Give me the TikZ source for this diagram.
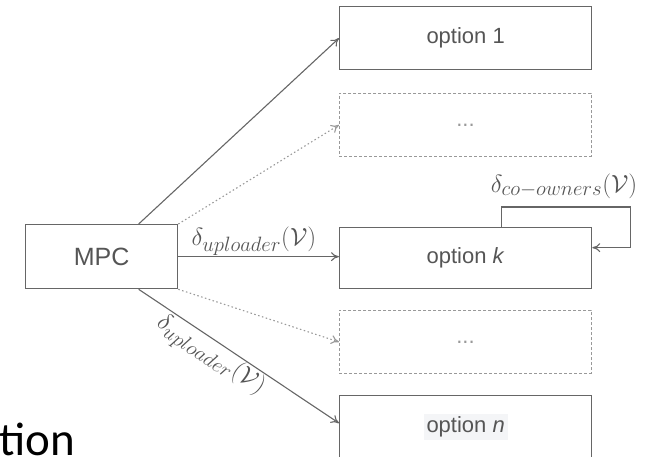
\documentclass[tikz,border=0pt]{standalone}
\usepackage{fontspec}
\setmainfont{Liberation Sans}
\newfontfamily\calib{Carlito}
\usetikzlibrary{calc,arrows.meta}
\definecolor{boxc}{HTML}{666666}
\definecolor{dashc}{HTML}{999999}
\definecolor{txtc}{HTML}{555555}
\definecolor{hl}{HTML}{F4F5F7}
\newcommand\dlab[1]{$\delta_{\hbox{\fontsize{22}{22}\selectfont$#1$}}(\mathcal{V})$}
\tikzset{
  optbox/.style={draw=boxc, line width=1.3pt, minimum width=252pt, minimum height=63pt, anchor=north west, inner sep=0pt, font=\fontsize{22}{26}\selectfont, text=txtc},
  dotbox/.style={optbox, draw=dashc, line width=0.9pt, dash pattern=on 3pt off 2pt},
  arr/.style={draw=boxc, line width=1.1pt, ->, >={To[length=8pt,width=9pt]}},
  darr/.style={arr, draw=dashc, dash pattern=on 1.5pt off 2.5pt},
  mlab/.style={text=txtc, font=\fontsize{25}{28}\selectfont, inner sep=1pt},
}
\begin{document}
\begin{tikzpicture}[x=1pt,y=-1pt]
\useasboundingbox (0,0) rectangle (646,456);
\node[optbox, minimum width=152pt, minimum height=64pt, font=\fontsize{25}{28}\selectfont] (mpc) at (25,224) {MPC};
\node[optbox] (opt1) at (339,6) {option 1};
\node[dotbox] (dots1) at (339,93) {\textcolor{dashc}{...}};
\node[optbox, minimum height=61pt] (optk) at (339,227) {option \textit{k}};
\node[dotbox] (dots2) at (339,310) {\textcolor{dashc}{...}};
\node[optbox] (optn) at (339,395) {};
\node[fill=hl, inner sep=3pt, text=txtc, font=\fontsize{22}{26}\selectfont] (optnt) at (optn.center) {option \textit{n}};
\draw[arr] ([xshift=37pt]mpc.north) -- (opt1.west);
\draw[darr] (mpc.north east) -- (dots1.west);
\draw[arr] (mpc.east) -- node[mlab, above, pos=0.47] (l1) {\dlab{uploader}} (mpc.east -| optk.west);
\draw[darr] (mpc.south east) -- (dots2.west);
\draw[arr] ([xshift=37pt]mpc.south) -- node[mlab, sloped, below, pos=0.4] (l2) {\dlab{uploader}} ([yshift=4pt]optn.west);
\coordinate (kin) at ([yshift=10.5pt]optk.east);
\coordinate (c1) at ($(optk.north)+(36,-20)$);
\coordinate (c2) at ($(c1)+(129,0)$);
\draw[arr] ([xshift=36pt]optk.north) -- (c1) -- (c2) -- (c2 |- kin) -- (kin);
\node[mlab] (l3) at (564,186) {\dlab{co{-}owners}};
\node[anchor=base west, inner sep=0pt, font=\calib\fontsize{47}{50}\selectfont] (tion) at (-1,455) {tion};
\end{tikzpicture}
\end{document}
